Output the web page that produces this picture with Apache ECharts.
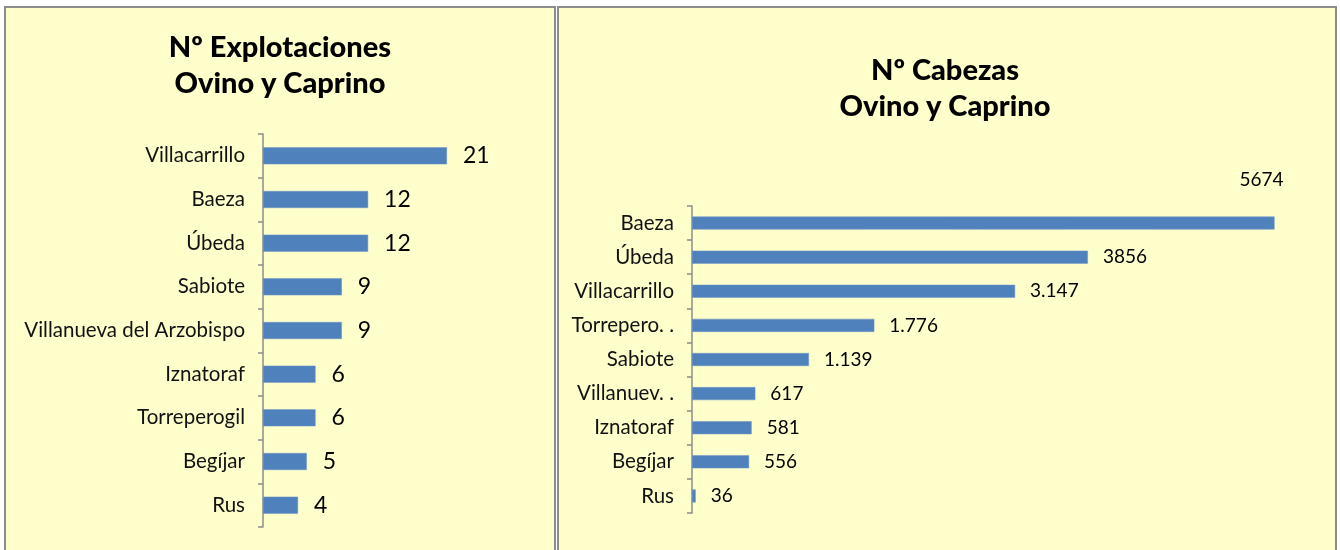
<!DOCTYPE html>
<html>
<head>
<meta charset="utf-8">
<script src="https://cdn.jsdelivr.net/npm/echarts@6/dist/echarts.min.js"></script>
<style>
  html, body { margin: 0; padding: 0; background: #ffffff; }
  #chart { width: 1340px; height: 550px; }
</style>
</head>
<body>
<div id="chart"></div>
<script>
// Nº Explotaciones de ovino y caprino por municipio
const farmTowns = ['Villacarrillo', 'Baeza', 'Úbeda', 'Sabiote', 'Villanueva del Arzobispo', 'Iznatoraf', 'Torreperogil', 'Begíjar', 'Rus'];
const farmCounts = [21, 12, 12, 9, 9, 6, 6, 5, 4];

// Nº Cabezas de ovino y caprino por municipio
const headTowns = ['Baeza', 'Úbeda', 'Villacarrillo', 'Torrepero. .', 'Sabiote', 'Villanuev. .', 'Iznatoraf', 'Begíjar', 'Rus'];
const headCounts = [5674, 3856, 3147, 1776, 1139, 617, 581, 556, 36];
const headLabels = ['5674', '3856', '3.147', '1.776', '1.139', '617', '581', '556', '36'];

const FONT = 'Lato, "Open Sans", sans-serif';
const BAR = '#4f81bd';
const PANEL = '#ffffcc';

const chart = echarts.init(document.getElementById('chart'), null, { renderer: 'canvas' });

const catAxis = (gridIndex, names) => ({
  type: 'category',
  gridIndex,
  data: names,
  inverse: true,
  axisLine: { show: true, lineStyle: { color: '#8c8c8c', width: 1.5 } },
  axisTick: { show: true, length: 5, lineStyle: { color: '#8c8c8c', width: 1.5 } },
  axisLabel: { color: '#111', fontFamily: FONT, fontSize: 20.5, margin: 18 }
});

const valAxis = (gridIndex, max) => ({
  type: 'value',
  gridIndex,
  min: 0,
  max,
  show: false,
  splitLine: { show: false }
});

chart.setOption({
  animation: false,
  backgroundColor: '#ffffff',
  graphic: [
    { type: 'rect', shape: { x: 5, y: 7, width: 550, height: 560 },
      style: { fill: PANEL, stroke: '#8c8c8c', lineWidth: 2 }, z: -10 },
    { type: 'rect', shape: { x: 558, y: 7, width: 778, height: 560 },
      style: { fill: PANEL, stroke: '#8c8c8c', lineWidth: 2 }, z: -10 }
  ],
  title: [
    { text: 'Nº Explotaciones\nOvino y Caprino', left: 275, top: 25, textAlign: 'center',
      textStyle: { fontFamily: FONT, fontWeight: 900, fontSize: 29, lineHeight: 36, color: '#000' } },
    { text: 'Nº Cabezas\nOvino y Caprino', left: 940, top: 48, textAlign: 'center',
      textStyle: { fontFamily: FONT, fontWeight: 900, fontSize: 29, lineHeight: 36, color: '#000' } }
  ],
  grid: [
    { left: 263, top: 134, width: 219, height: 393 },
    { left: 692, top: 206, width: 616, height: 307 }
  ],
  xAxis: [valAxis(0, 25), valAxis(1, 6000)],
  yAxis: [catAxis(0, farmTowns), catAxis(1, headTowns)],
  series: [
    {
      type: 'bar',
      xAxisIndex: 0, yAxisIndex: 0,
      data: farmCounts,
      barWidth: 17,
      itemStyle: { color: BAR, borderColor: '#6f95c8', borderWidth: 0.5 },
      label: { show: true, position: 'right', distance: 16, color: '#000',
               fontFamily: FONT, fontSize: 23 }
    },
    {
      type: 'bar',
      xAxisIndex: 1, yAxisIndex: 1,
      data: headCounts.map((v, i) => i === 0
        ? { value: v, label: { offset: [-50, -43] } }
        : v),
      barWidth: 13,
      itemStyle: { color: BAR, borderColor: '#6f95c8', borderWidth: 0.5 },
      label: { show: true, position: 'right', distance: 15, color: '#000',
               fontFamily: FONT, fontSize: 19,
               formatter: p => headLabels[p.dataIndex] }
    }
  ]
});
</script>
</body>
</html>
